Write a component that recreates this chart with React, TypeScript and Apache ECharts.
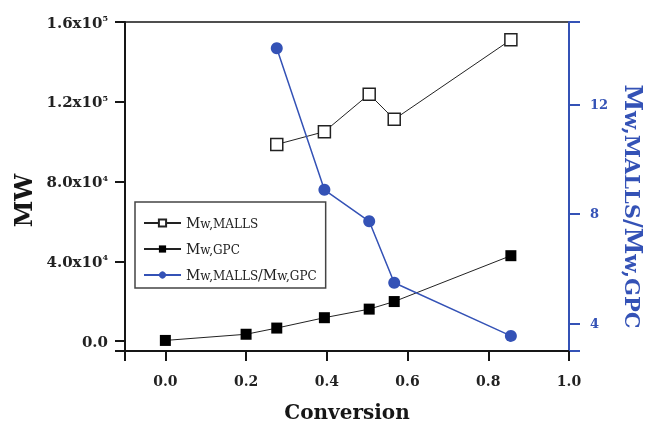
import React, { useEffect, useRef } from 'react';
import * as echarts from 'echarts';

const conversionMALLS = [0.276, 0.394, 0.505, 0.567, 0.856];
const mwMALLS = [98600, 105000, 123800, 111200, 151100];
const conversionGPC = [0.0, 0.2, 0.276, 0.394, 0.505, 0.567, 0.856];
const mwGPC = [300, 3400, 6500, 11700, 16000, 19800, 42800];
const conversionRatio = [0.276, 0.394, 0.505, 0.567, 0.856];
const ratioValues = [14.04, 8.88, 7.73, 5.49, 3.55];
const xTicks = [0, 0.2, 0.4, 0.6, 0.8, 1.0];
const mwTicks = [0, 40000, 80000, 120000, 160000];
const ratioTicks = [4, 8, 12];
const xRange = [-0.1, 1.0];
const mwRange = [-5000, 160000];
const ratioRange = [3, 15];
const seriesNames = ['Mw,MALLS', 'Mw,GPC', 'Mw,MALLS/Mw,GPC'];
const legendLabels: Record<string, string> = {
  'Mw,MALLS': '{m|M}{s|w,MALLS}',
  'Mw,GPC': '{m|M}{s|w,GPC}',
  'Mw,MALLS/Mw,GPC': '{m|M}{s|w,MALLS}{m|/M}{s|w,GPC}',
};

const F = '"DejaVu Serif", "Liberation Serif", serif';
const BLUE = '#3452b6';
const INK = '#161616';

function mwLabel(v: number): string {
  if (v === 0) return '{n|0.0}';
  const e = Math.floor(Math.log10(v) + 1e-9);
  const m = v / Math.pow(10, e);
  return `{n|${m.toFixed(1)}x10}{sup|${e}}`;
}

export default function App() {
  const ref = useRef<HTMLDivElement>(null);
  useEffect(() => {
    const chart = echarts.init(ref.current!, null, { renderer: 'svg' });
    chart.setOption({
      animation: false,
      grid: {
        left: 125, right: 80, top: 22, bottom: 73,
        containLabel: false, outerBoundsMode: 'none',
        show: true, borderColor: INK, borderWidth: 1.5, backgroundColor: 'transparent',
      },
      legend: {
        orient: 'vertical', left: 135, top: 202,
        padding: [14, 9, 6, 8],
        itemWidth: 37, itemHeight: 9, itemGap: 12,
        borderColor: '#444', borderWidth: 1.5, backgroundColor: '#fff',
        data: seriesNames,
        formatter: (name: string) => legendLabels[name],
        textStyle: {
          rich: {
            m: { fontFamily: F, fontSize: 14, lineHeight: 14, verticalAlign: 'top', color: '#222' },
            s: { fontFamily: F, fontSize: 12, lineHeight: 6, verticalAlign: 'bottom', color: '#222' },
          },
        },
      },
      xAxis: {
        type: 'value', min: xRange[0], max: xRange[1], minInterval: 0.2, maxInterval: 0.2,
        name: 'Conversion', nameLocation: 'middle', nameGap: 51,
        nameTextStyle: { fontFamily: F, fontWeight: 'bold', fontSize: 20, lineHeight: 20, color: INK },
        axisLine: { show: true, onZero: false, lineStyle: { color: INK, width: 2 } },
        axisTick: { show: true, inside: false, length: 10, lineStyle: { color: INK, width: 2 } },
        axisLabel: {
          customValues: xTicks, margin: 23,
          formatter: (v: number) => v.toFixed(1),
          fontFamily: F, fontWeight: 'bold', fontSize: 14, color: '#222',
        },
        splitLine: { show: false },
      },
      yAxis: [
        {
          type: 'value', min: mwRange[0], max: mwRange[1], minInterval: 40000, maxInterval: 40000,
          position: 'left',
          name: 'MW', nameLocation: 'middle', nameGap: 88, nameRotate: 90,
          nameTextStyle: { fontFamily: F, fontWeight: 'bold', fontSize: 24, color: INK, padding: [0, 28, 0, 0] },
          axisLine: { show: true, onZero: false, lineStyle: { color: INK, width: 2 } },
          axisTick: { show: true, inside: false, length: 10, lineStyle: { color: INK, width: 2 } },
          axisLabel: {
            customValues: mwTicks, margin: 17,
            formatter: mwLabel,
            rich: {
              n: { fontFamily: F, fontWeight: 'bold', fontSize: 15, lineHeight: 16, verticalAlign: 'bottom', color: '#222' },
              sup: { fontFamily: F, fontWeight: 'bold', fontSize: 8, lineHeight: 8, verticalAlign: 'top', color: '#222' },
            },
          },
          splitLine: { show: false },
        },
        {
          type: 'value', min: ratioRange[0], max: ratioRange[1], minInterval: 4, maxInterval: 4,
          position: 'right',
          name: '{m|M}{s|w,MALLS}{m|/M}{s|w,GPC}', nameLocation: 'middle', nameRotate: -90, nameGap: 53,
          nameTextStyle: {
            color: BLUE, padding: [0, 0, 0, 40],
            rich: {
              m: { fontFamily: F, fontWeight: 'bold', fontSize: 24, lineHeight: 23, verticalAlign: 'top', color: BLUE },
              s: { fontFamily: F, fontWeight: 'bold', fontSize: 21, lineHeight: 10, verticalAlign: 'bottom', color: BLUE },
            },
          },
          axisLine: { show: true, onZero: false, lineStyle: { color: BLUE, width: 2 } },
          axisTick: { show: true, inside: false, length: 11, lineStyle: { color: BLUE, width: 2 } },
          axisLabel: {
            customValues: ratioTicks, margin: 21,
            fontFamily: F, fontWeight: 'bold', fontSize: 13, color: BLUE,
          },
          splitLine: { show: false },
        },
      ],
      series: [
        {
          name: seriesNames[0], type: 'line', yAxisIndex: 0,
          data: conversionMALLS.map((x, i) => [x, mwMALLS[i]]),
          symbol: 'rect', symbolSize: 12,
          lineStyle: { color: '#222', width: 1 },
          itemStyle: { color: '#fff', borderColor: '#222', borderWidth: 1.5 },
        },
        {
          name: seriesNames[1], type: 'line', yAxisIndex: 0,
          data: conversionGPC.map((x, i) => [x, mwGPC[i]]),
          symbol: 'rect', symbolSize: 11,
          lineStyle: { color: '#222', width: 1 },
          itemStyle: { color: '#000' },
        },
        {
          name: seriesNames[2], type: 'line', yAxisIndex: 1,
          data: conversionRatio.map((x, i) => [x, ratioValues[i]]),
          symbol: 'circle', symbolSize: 12,
          lineStyle: { color: BLUE, width: 1.5 },
          itemStyle: { color: BLUE },
        },
      ],
    });
    return () => chart.dispose();
  }, []);
  return <div ref={ref} style={{ position: 'fixed', left: 0, top: 0, width: 649, height: 424 }} />;
}
